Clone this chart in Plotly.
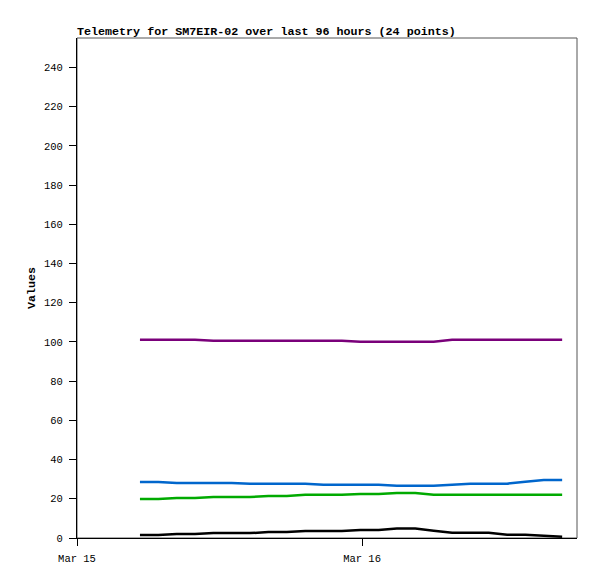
import plotly.graph_objects as go

times = [
    "2024-03-15 05:18", "2024-03-15 06:51", "2024-03-15 08:24", "2024-03-15 09:56",
    "2024-03-15 11:29", "2024-03-15 13:02", "2024-03-15 14:34", "2024-03-15 16:07",
    "2024-03-15 17:40", "2024-03-15 19:13", "2024-03-15 20:45", "2024-03-15 22:18",
    "2024-03-15 23:51", "2024-03-16 01:24", "2024-03-16 02:56", "2024-03-16 04:29",
    "2024-03-16 06:02", "2024-03-16 07:35", "2024-03-16 09:07", "2024-03-16 10:40",
    "2024-03-16 12:13", "2024-03-16 13:45", "2024-03-16 15:18", "2024-03-16 16:51",
]

purple_vals = [101.1, 101.1, 101.1, 101.1, 100.6, 100.6, 100.6, 100.6, 100.6, 100.6, 100.6, 100.6,
               100.1, 100.1, 100.1, 100.1, 100.1, 101.1, 101.1, 101.1, 101.1, 101.1, 101.1, 101.1]
blue_vals = [28.6, 28.6, 28.1, 28.1, 28.1, 28.1, 27.7, 27.7, 27.7, 27.7, 27.2, 27.2,
             27.2, 27.2, 26.7, 26.7, 26.7, 27.2, 27.7, 27.7, 27.7, 28.7, 29.6, 29.6]
green_vals = [19.9, 19.9, 20.4, 20.4, 20.9, 20.9, 20.9, 21.4, 21.4, 22.0, 22.0, 22.0,
              22.5, 22.5, 23.0, 23.0, 22.0, 22.0, 22.0, 22.0, 22.0, 22.0, 22.0, 22.0]
black_vals = [1.5, 1.5, 2.0, 2.0, 2.5, 2.5, 2.5, 3.0, 3.0, 3.6, 3.6, 3.6,
              4.1, 4.1, 4.8, 4.8, 3.7, 2.7, 2.7, 2.7, 1.7, 1.7, 1.2, 0.7]

series = [
    ("purple", purple_vals, "#7a007a"),
    ("blue", blue_vals, "#0066cc"),
    ("green", green_vals, "#00aa00"),
    ("black", black_vals, "#000000"),
]

x_range = ["2024-03-15 00:00", "2024-03-16 18:06"]
y_range = [0, 255]
y_ticks = list(range(0, 241, 20))

# page body has an 8px margin; figure is sized/offset to compensate
W, H = 589, 571

fig = go.Figure()
for name, vals, color in series:
    fig.add_trace(go.Scatter(x=times, y=vals, mode="lines", name=name,
                             line=dict(color=color, width=2.5), showlegend=False))

mono = "Liberation Mono, DejaVu Sans Mono, monospace"
tick_font = dict(family=mono, size=10.5, color="#000000")

fig.update_layout(
    width=W, height=H,
    margin=dict(l=69, r=20, t=30, b=41),
    paper_bgcolor="white", plot_bgcolor="white",
    title=dict(text="<b>Telemetry for SM7EIR-02 over last 96 hours (24 points)</b>",
               x=69 / W, xanchor="left", xref="container",
               y=1 - 23 / H, yanchor="middle", yref="container",
               font=dict(family=mono, size=11.7, color="#000000")),
    xaxis=dict(type="date", range=x_range, dtick=86400000, tick0="2024-03-15",
               tickformat="%b %d", showgrid=False, zeroline=False,
               showline=True, linecolor="#000000", linewidth=1,
               ticks="outside", ticklen=7, tickcolor="#000000", tickfont=tick_font,
               ticklabelstandoff=3),
    yaxis=dict(range=y_range, tickvals=y_ticks, showgrid=False, zeroline=False,
               showline=True, linecolor="#000000", linewidth=1,
               ticks="outside", ticklen=7, tickcolor="#000000", tickfont=tick_font,
               ticklabelstandoff=4),
    shapes=[dict(type="rect", xref="paper", yref="paper", x0=0, y0=0, x1=1, y1=1,
                 line=dict(color="#555555", width=1), layer="below")],
    annotations=[dict(text="<b>Values</b>", xref="paper", yref="paper",
                      x=(32 - 77) / 500, y=0.5, textangle=-90, showarrow=False,
                      xanchor="center", yanchor="middle",
                      font=dict(family=mono, size=11.7, color="#000000"))],
)

fig.write_html("out.html")
